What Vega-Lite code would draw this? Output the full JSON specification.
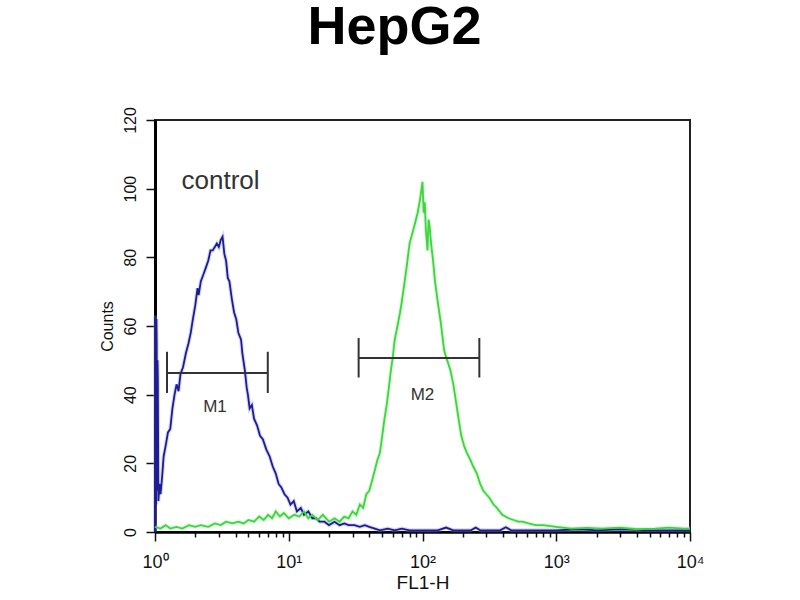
{
  "$schema": "https://vega.github.io/schema/vega-lite/v6.json",
  "description": "HepG2 flow cytometry histogram, FL1-H",
  "width": 535,
  "height": 412,
  "autosize": {"type": "none"},
  "padding": {"left": 155, "top": 120, "right": 110, "bottom": 68},
  "background": "white",
  "title": {
    "text": "HepG2",
    "font": "Liberation Sans",
    "fontSize": 54,
    "fontWeight": "bold",
    "color": "black",
    "anchor": "middle",
    "offset": 52,
    "dx": -28
  },
  "config": {
    "font": "Liberation Sans",
    "view": {"stroke": "#222", "strokeWidth": 2}
  },
  "datasets": {
    "hist": [
      {"series": "control", "fl": 1.0, "count": 0},
      {"series": "control", "fl": 1.005, "count": 63},
      {"series": "control", "fl": 1.01, "count": 10},
      {"series": "control", "fl": 1.015, "count": 60},
      {"series": "control", "fl": 1.02, "count": 8},
      {"series": "control", "fl": 1.025, "count": 62},
      {"series": "control", "fl": 1.03, "count": 55},
      {"series": "control", "fl": 1.035, "count": 14},
      {"series": "control", "fl": 1.04, "count": 12},
      {"series": "control", "fl": 1.045, "count": 50},
      {"series": "control", "fl": 1.05, "count": 45},
      {"series": "control", "fl": 1.06, "count": 9},
      {"series": "control", "fl": 1.08, "count": 14},
      {"series": "control", "fl": 1.1, "count": 11},
      {"series": "control", "fl": 1.13, "count": 16},
      {"series": "control", "fl": 1.16, "count": 22},
      {"series": "control", "fl": 1.2, "count": 25},
      {"series": "control", "fl": 1.25, "count": 29},
      {"series": "control", "fl": 1.3, "count": 30},
      {"series": "control", "fl": 1.35, "count": 36},
      {"series": "control", "fl": 1.4, "count": 40},
      {"series": "control", "fl": 1.45, "count": 43},
      {"series": "control", "fl": 1.5, "count": 41},
      {"series": "control", "fl": 1.55, "count": 46},
      {"series": "control", "fl": 1.62, "count": 48},
      {"series": "control", "fl": 1.7, "count": 52},
      {"series": "control", "fl": 1.78, "count": 55},
      {"series": "control", "fl": 1.85, "count": 58},
      {"series": "control", "fl": 1.92, "count": 62},
      {"series": "control", "fl": 2.0, "count": 66},
      {"series": "control", "fl": 2.08, "count": 71},
      {"series": "control", "fl": 2.12, "count": 69},
      {"series": "control", "fl": 2.2, "count": 73},
      {"series": "control", "fl": 2.3, "count": 75},
      {"series": "control", "fl": 2.4, "count": 77},
      {"series": "control", "fl": 2.5, "count": 79},
      {"series": "control", "fl": 2.6, "count": 82},
      {"series": "control", "fl": 2.7, "count": 82},
      {"series": "control", "fl": 2.8, "count": 83},
      {"series": "control", "fl": 2.9, "count": 84},
      {"series": "control", "fl": 3.0, "count": 83},
      {"series": "control", "fl": 3.1, "count": 85},
      {"series": "control", "fl": 3.2, "count": 86},
      {"series": "control", "fl": 3.3, "count": 81},
      {"series": "control", "fl": 3.4, "count": 79},
      {"series": "control", "fl": 3.5, "count": 74},
      {"series": "control", "fl": 3.6, "count": 73},
      {"series": "control", "fl": 3.75, "count": 68},
      {"series": "control", "fl": 3.9, "count": 64},
      {"series": "control", "fl": 4.05, "count": 62},
      {"series": "control", "fl": 4.2, "count": 58},
      {"series": "control", "fl": 4.4, "count": 56},
      {"series": "control", "fl": 4.5, "count": 52},
      {"series": "control", "fl": 4.7, "count": 47},
      {"series": "control", "fl": 4.85, "count": 42},
      {"series": "control", "fl": 4.95, "count": 40},
      {"series": "control", "fl": 5.1, "count": 36},
      {"series": "control", "fl": 5.3, "count": 37},
      {"series": "control", "fl": 5.5, "count": 33},
      {"series": "control", "fl": 5.8, "count": 31},
      {"series": "control", "fl": 6.1, "count": 28},
      {"series": "control", "fl": 6.4, "count": 27},
      {"series": "control", "fl": 6.8, "count": 24},
      {"series": "control", "fl": 7.2, "count": 22},
      {"series": "control", "fl": 7.6, "count": 19},
      {"series": "control", "fl": 8.0, "count": 17},
      {"series": "control", "fl": 8.4, "count": 14},
      {"series": "control", "fl": 8.8, "count": 13},
      {"series": "control", "fl": 9.3, "count": 11},
      {"series": "control", "fl": 9.8, "count": 10},
      {"series": "control", "fl": 10.3, "count": 8},
      {"series": "control", "fl": 10.9, "count": 9},
      {"series": "control", "fl": 11.5, "count": 6},
      {"series": "control", "fl": 12.3, "count": 7},
      {"series": "control", "fl": 13.0, "count": 5},
      {"series": "control", "fl": 14.0, "count": 6},
      {"series": "control", "fl": 15.0, "count": 4},
      {"series": "control", "fl": 16.0, "count": 4},
      {"series": "control", "fl": 17.0, "count": 3},
      {"series": "control", "fl": 18.5, "count": 3},
      {"series": "control", "fl": 20, "count": 2},
      {"series": "control", "fl": 22, "count": 3},
      {"series": "control", "fl": 24, "count": 2},
      {"series": "control", "fl": 26, "count": 2.5},
      {"series": "control", "fl": 28, "count": 2},
      {"series": "control", "fl": 31, "count": 2},
      {"series": "control", "fl": 34, "count": 1.5},
      {"series": "control", "fl": 37, "count": 2},
      {"series": "control", "fl": 40, "count": 1.5},
      {"series": "control", "fl": 44, "count": 1},
      {"series": "control", "fl": 48, "count": 0.5},
      {"series": "control", "fl": 55, "count": 1},
      {"series": "control", "fl": 62, "count": 0.5},
      {"series": "control", "fl": 70, "count": 1},
      {"series": "control", "fl": 80, "count": 0.5},
      {"series": "control", "fl": 100, "count": 0.5},
      {"series": "control", "fl": 130, "count": 0.5},
      {"series": "control", "fl": 150, "count": 1.3},
      {"series": "control", "fl": 170, "count": 0.5},
      {"series": "control", "fl": 230, "count": 0.5},
      {"series": "control", "fl": 250, "count": 1.3},
      {"series": "control", "fl": 270, "count": 0.5},
      {"series": "control", "fl": 380, "count": 0.5},
      {"series": "control", "fl": 420, "count": 1.4},
      {"series": "control", "fl": 460, "count": 0.5},
      {"series": "control", "fl": 1000, "count": 0.5},
      {"series": "control", "fl": 1500, "count": 0.8},
      {"series": "control", "fl": 2000, "count": 0.5},
      {"series": "control", "fl": 3000, "count": 0.8},
      {"series": "control", "fl": 5000, "count": 0.5},
      {"series": "control", "fl": 10000, "count": 0.5},
      {"series": "sample", "fl": 1.0, "count": 1.5},
      {"series": "sample", "fl": 1.1, "count": 1},
      {"series": "sample", "fl": 1.2, "count": 2},
      {"series": "sample", "fl": 1.3, "count": 1},
      {"series": "sample", "fl": 1.45, "count": 1.5},
      {"series": "sample", "fl": 1.6, "count": 1},
      {"series": "sample", "fl": 1.8, "count": 2},
      {"series": "sample", "fl": 2.0, "count": 1.5},
      {"series": "sample", "fl": 2.2, "count": 2},
      {"series": "sample", "fl": 2.5, "count": 1.5},
      {"series": "sample", "fl": 2.8, "count": 2.5},
      {"series": "sample", "fl": 3.1, "count": 2},
      {"series": "sample", "fl": 3.4, "count": 3},
      {"series": "sample", "fl": 3.8, "count": 2.5},
      {"series": "sample", "fl": 4.2, "count": 3},
      {"series": "sample", "fl": 4.6, "count": 2.5},
      {"series": "sample", "fl": 5.0, "count": 3.5},
      {"series": "sample", "fl": 5.5, "count": 3},
      {"series": "sample", "fl": 6.0, "count": 4.5},
      {"series": "sample", "fl": 6.5, "count": 3.5},
      {"series": "sample", "fl": 7.0, "count": 5},
      {"series": "sample", "fl": 7.5, "count": 4},
      {"series": "sample", "fl": 8.0, "count": 6},
      {"series": "sample", "fl": 8.6, "count": 4.5},
      {"series": "sample", "fl": 9.2, "count": 5.5},
      {"series": "sample", "fl": 10, "count": 4},
      {"series": "sample", "fl": 11, "count": 5},
      {"series": "sample", "fl": 12, "count": 4.5},
      {"series": "sample", "fl": 13, "count": 6},
      {"series": "sample", "fl": 14, "count": 4},
      {"series": "sample", "fl": 15, "count": 5},
      {"series": "sample", "fl": 16.5, "count": 3.5},
      {"series": "sample", "fl": 18, "count": 5},
      {"series": "sample", "fl": 20, "count": 3},
      {"series": "sample", "fl": 22, "count": 4},
      {"series": "sample", "fl": 24, "count": 3},
      {"series": "sample", "fl": 26, "count": 4.5},
      {"series": "sample", "fl": 28, "count": 4},
      {"series": "sample", "fl": 30, "count": 6},
      {"series": "sample", "fl": 32, "count": 5},
      {"series": "sample", "fl": 34, "count": 8},
      {"series": "sample", "fl": 36, "count": 7},
      {"series": "sample", "fl": 38, "count": 11},
      {"series": "sample", "fl": 40, "count": 12},
      {"series": "sample", "fl": 42, "count": 15},
      {"series": "sample", "fl": 44, "count": 18},
      {"series": "sample", "fl": 46, "count": 21},
      {"series": "sample", "fl": 48, "count": 23},
      {"series": "sample", "fl": 50, "count": 28},
      {"series": "sample", "fl": 52, "count": 33},
      {"series": "sample", "fl": 54, "count": 37},
      {"series": "sample", "fl": 56, "count": 42},
      {"series": "sample", "fl": 58, "count": 47},
      {"series": "sample", "fl": 60, "count": 51},
      {"series": "sample", "fl": 62, "count": 56},
      {"series": "sample", "fl": 65, "count": 60},
      {"series": "sample", "fl": 68, "count": 64},
      {"series": "sample", "fl": 70, "count": 67},
      {"series": "sample", "fl": 73, "count": 72},
      {"series": "sample", "fl": 76, "count": 77},
      {"series": "sample", "fl": 80, "count": 84},
      {"series": "sample", "fl": 84, "count": 87},
      {"series": "sample", "fl": 88, "count": 90},
      {"series": "sample", "fl": 92, "count": 93},
      {"series": "sample", "fl": 96, "count": 97},
      {"series": "sample", "fl": 100, "count": 102},
      {"series": "sample", "fl": 102, "count": 93},
      {"series": "sample", "fl": 104, "count": 96},
      {"series": "sample", "fl": 106, "count": 88},
      {"series": "sample", "fl": 109, "count": 82},
      {"series": "sample", "fl": 111, "count": 91},
      {"series": "sample", "fl": 113, "count": 89},
      {"series": "sample", "fl": 116, "count": 84},
      {"series": "sample", "fl": 120, "count": 79},
      {"series": "sample", "fl": 124, "count": 73},
      {"series": "sample", "fl": 130, "count": 67},
      {"series": "sample", "fl": 137, "count": 61},
      {"series": "sample", "fl": 145, "count": 53},
      {"series": "sample", "fl": 150, "count": 51},
      {"series": "sample", "fl": 156, "count": 49},
      {"series": "sample", "fl": 162, "count": 47},
      {"series": "sample", "fl": 170, "count": 43},
      {"series": "sample", "fl": 178, "count": 38},
      {"series": "sample", "fl": 186, "count": 33},
      {"series": "sample", "fl": 195, "count": 28},
      {"series": "sample", "fl": 205, "count": 25},
      {"series": "sample", "fl": 215, "count": 23},
      {"series": "sample", "fl": 228, "count": 21},
      {"series": "sample", "fl": 240, "count": 19},
      {"series": "sample", "fl": 255, "count": 17},
      {"series": "sample", "fl": 270, "count": 14},
      {"series": "sample", "fl": 285, "count": 12},
      {"series": "sample", "fl": 300, "count": 11},
      {"series": "sample", "fl": 316, "count": 10},
      {"series": "sample", "fl": 340, "count": 8},
      {"series": "sample", "fl": 360, "count": 7},
      {"series": "sample", "fl": 395, "count": 5},
      {"series": "sample", "fl": 440, "count": 4},
      {"series": "sample", "fl": 480, "count": 3.5},
      {"series": "sample", "fl": 520, "count": 3},
      {"series": "sample", "fl": 560, "count": 3},
      {"series": "sample", "fl": 620, "count": 2.5},
      {"series": "sample", "fl": 700, "count": 2},
      {"series": "sample", "fl": 800, "count": 2},
      {"series": "sample", "fl": 1000, "count": 1.5},
      {"series": "sample", "fl": 1300, "count": 1},
      {"series": "sample", "fl": 1700, "count": 1.2},
      {"series": "sample", "fl": 2200, "count": 1},
      {"series": "sample", "fl": 3000, "count": 1.3},
      {"series": "sample", "fl": 4000, "count": 0.8},
      {"series": "sample", "fl": 5500, "count": 1},
      {"series": "sample", "fl": 7000, "count": 1.3},
      {"series": "sample", "fl": 9000, "count": 1},
      {"series": "sample", "fl": 10000, "count": 1}
    ],
    "markers": [
      {"name": "M1", "fl": 1.23, "fl2": 6.97, "count": 46.3, "lo": 40.5, "hi": 52.5, "labelX": 2.81, "labelY": 36.3},
      {"name": "M2", "fl": 33.3, "fl2": 266, "count": 50.7, "lo": 45, "hi": 56.5, "labelX": 100, "labelY": 40}
    ],
    "notes": [
      {"text": "control", "fl": 1.58, "count": 100}
    ]
  },
  "layer": [
    {
      "data": {"name": "hist"},
      "mark": {"type": "line", "strokeWidth": 4, "opacity": 0.4},
      "encoding": {
        "x": {
          "field": "fl",
          "type": "quantitative",
          "title": "FL1-H",
          "scale": {"type": "log", "domain": [1, 10000], "nice": false},
          "axis": {
            "values": [1, 2, 3, 4, 5, 6, 7, 8, 9, 10, 20, 30, 40, 50, 60, 70, 80, 90, 100, 200, 300, 400, 500, 600, 700, 800, 900, 1000, 2000, 3000, 4000, 5000, 6000, 7000, 8000, 9000, 10000],
            "labelExpr": "datum.value == 1 ? '10⁰' : datum.value == 10 ? '10¹' : datum.value == 100 ? '10²' : datum.value == 1000 ? '10³' : datum.value == 10000 ? '10⁴' : ''",
            "labelFont": "Liberation Sans",
            "labelFontSize": 18,
            "labelColor": "#111",
            "labelPadding": 12,
            "labelFlush": false,
            "labelOverlap": false,
            "labelBound": false,
            "tickSize": {"condition": {"test": "indexof([1, 10, 100, 1000, 10000], datum.value) >= 0", "value": 9}, "value": 5},
            "tickColor": "#111",
            "tickWidth": 1.5,
            "domainColor": "black",
            "domainWidth": 2.5,
            "grid": false,
            "titleFont": "Liberation Sans",
            "titleFontSize": 19,
            "titleFontWeight": "normal",
            "titleColor": "#111",
            "titlePadding": 2
          }
        },
        "y": {
          "field": "count",
          "type": "quantitative",
          "title": "Counts",
          "scale": {"domain": [0, 120], "nice": false},
          "axis": {
            "values": [0, 5, 10, 15, 20, 25, 30, 35, 40, 45, 50, 55, 60, 65, 70, 75, 80, 85, 90, 95, 100, 105, 110, 115, 120],
            "labelExpr": "datum.value % 20 == 0 ? datum.label : ''",
            "labelAngle": -90,
            "labelAlign": "center",
            "labelBaseline": "bottom",
            "labelFont": "Liberation Sans",
            "labelFontSize": 16,
            "labelColor": "#111",
            "labelPadding": 8,
            "labelOverlap": false,
            "labelFlush": false,
            "labelBound": false,
            "tickSize": {"condition": {"test": "datum.value % 20 == 0", "value": 9}, "value": 6},
            "tickColor": "#111",
            "tickWidth": 1.5,
            "domainColor": "black",
            "domainWidth": 3,
            "grid": false,
            "titleFont": "Liberation Sans",
            "titleFontSize": 16,
            "titleFontWeight": "normal",
            "titleColor": "#111",
            "titlePadding": 7
          }
        },
        "color": {
          "field": "series",
          "type": "nominal",
          "scale": {"domain": ["control", "sample"], "range": ["#9a9ad8", "#a8f0a8"]},
          "legend": null
        }
      }
    },
    {
      "data": {"name": "hist"},
      "mark": {"type": "line", "strokeWidth": 1.8},
      "encoding": {
        "x": {"field": "fl", "type": "quantitative", "title": "FL1-H"},
        "y": {"field": "count", "type": "quantitative", "title": "Counts"},
        "stroke": {
          "field": "series",
          "type": "nominal",
          "scale": {"domain": ["control", "sample"], "range": ["#1c1c94", "#3ad63a"]},
          "legend": null
        }
      }
    },
    {
      "data": {"name": "markers"},
      "mark": {"type": "rule", "color": "#333", "strokeWidth": 2},
      "encoding": {
        "x": {"field": "fl", "type": "quantitative", "title": "FL1-H"},
        "x2": {"field": "fl2"},
        "y": {"field": "count", "type": "quantitative", "title": "Counts"}
      }
    },
    {
      "data": {"name": "markers"},
      "mark": {"type": "rule", "color": "#333", "strokeWidth": 2},
      "encoding": {
        "x": {"field": "fl", "type": "quantitative", "title": "FL1-H"},
        "y": {"field": "lo", "type": "quantitative", "title": "Counts"},
        "y2": {"field": "hi"}
      }
    },
    {
      "data": {"name": "markers"},
      "mark": {"type": "rule", "color": "#333", "strokeWidth": 2},
      "encoding": {
        "x": {"field": "fl2", "type": "quantitative", "title": "FL1-H"},
        "y": {"field": "lo", "type": "quantitative", "title": "Counts"},
        "y2": {"field": "hi"}
      }
    },
    {
      "data": {"name": "markers"},
      "mark": {"type": "text", "font": "Liberation Sans", "fontSize": 17, "color": "#333", "align": "center", "baseline": "middle"},
      "encoding": {
        "x": {"field": "labelX", "type": "quantitative", "title": "FL1-H"},
        "y": {"field": "labelY", "type": "quantitative", "title": "Counts"},
        "text": {"field": "name"}
      }
    },
    {
      "data": {"name": "notes"},
      "mark": {"type": "text", "font": "Liberation Sans", "fontSize": 26, "color": "#333", "align": "left", "baseline": "alphabetic"},
      "encoding": {
        "x": {"field": "fl", "type": "quantitative", "title": "FL1-H"},
        "y": {"field": "count", "type": "quantitative", "title": "Counts"},
        "text": {"field": "text"}
      }
    }
  ]
}
